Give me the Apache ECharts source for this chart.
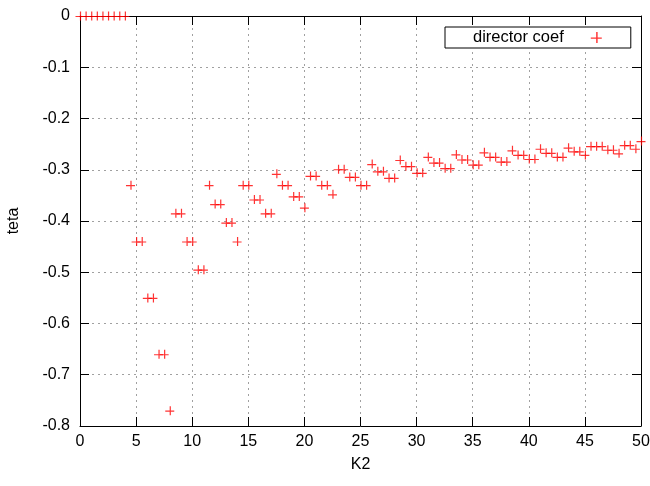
<!DOCTYPE html>
<html><head><meta charset="utf-8">
<script src="https://cdn.jsdelivr.net/npm/echarts@6/dist/echarts.min.js"></script>
<style>html,body{margin:0;padding:0;background:#fff}#c{width:650px;height:486px}</style>
</head><body><div id="c"></div>
<script>
// ---- data ----
const k2 = [0,0.5,1,1.5,2,2.5,3,3.5,4,4.5,5,5.5,6,6.5,7,7.5,8,8.5,9,9.5,10,10.5,11,11.5,12,12.5,13,13.5,14,14.5,15,15.5,16,16.5,17,17.5,18,18.5,19,19.5,20,20.5,21,21.5,22,22.5,23,23.5,24,24.5,25,25.5,26,26.5,27,27.5,28,28.5,29,29.5,30,30.5,31,31.5,32,32.5,33,33.5,34,34.5,35,35.5,36,36.5,37,37.5,38,38.5,39,39.5,40,40.5,41,41.5,42,42.5,43,43.5,44,44.5,45,45.5,46,46.5,47,47.5,48,48.5,49,49.5,50];
const teta = [0,0,0,0,0,0,0,0,0,
  -0.33,-0.44,-0.44,-0.55,-0.55,-0.66,-0.66,-0.77,
  -0.385,-0.385,-0.44,-0.44,-0.495,-0.495,
  -0.33,-0.367,-0.367,-0.403,-0.403,-0.44,
  -0.33,-0.33,-0.358,-0.358,-0.385,-0.385,
  -0.308,-0.33,-0.33,-0.352,-0.352,-0.374,
  -0.312,-0.312,-0.33,-0.33,-0.348,
  -0.299,-0.299,-0.314,-0.314,-0.33,-0.33,
  -0.289,-0.303,-0.303,-0.316,-0.316,
  -0.281,-0.293,-0.293,-0.306,-0.306,
  -0.275,-0.286,-0.286,-0.297,-0.297,
  -0.27,-0.28,-0.28,-0.29,-0.29,
  -0.266,-0.275,-0.275,-0.284,-0.284,
  -0.262,-0.271,-0.271,-0.279,-0.279,
  -0.259,-0.267,-0.267,-0.275,-0.275,
  -0.257,-0.264,-0.264,-0.271,
  -0.254,-0.254,-0.254,-0.261,-0.261,-0.268,
  -0.252,-0.252,-0.259,-0.244];
const seriesName = 'director coef';
const xTicks = [0,5,10,15,20,25,30,35,40,45,50];
const yTicks = [-0.8,-0.7,-0.6,-0.5,-0.4,-0.3,-0.2,-0.1,0];

// ---- drawing ----
const FONT = '"Liberation Sans", Arial, sans-serif';
const plus = 'path://M0,4.4H9V5.6H0Z M4.4,0H5.6V9H4.4Z';
const xStep = xTicks[1]-xTicks[0];
const yStep = +(yTicks[1]-yTicks[0]).toFixed(4);
const frame = {lineStyle:{color:'#000',width:1}};
const grid = {type:[2,4],color:'#a0a0a0',width:1};
function xa(pos, main){
  return {type:'value', position:pos, min:xTicks[0], max:xTicks[xTicks.length-1], interval:xStep,
    axisLine:{show:true,onZero:false,...frame},
    axisTick:{show:true,inside:true,length:9,lineStyle:{color:'#000'}},
    axisLabel:{show:main,color:'#000',fontSize:16,fontFamily:FONT,margin:8},
    splitLine:{show:main,lineStyle:grid},
    name: main?'K2':'', nameLocation:'middle', nameGap:31,
    nameTextStyle:{color:'#000',fontSize:16,fontFamily:FONT}};
}
function ya(pos, main){
  return {type:'value', position:pos, min:yTicks[0], max:yTicks[yTicks.length-1], interval:yStep,
    axisLine:{show:true,onZero:false,...frame},
    axisTick:{show:true,inside:true,length:9,lineStyle:{color:'#000'}},
    axisLabel:{show:main,color:'#000',fontSize:16,fontFamily:FONT,margin:10},
    splitLine:{show:main,lineStyle:grid},
    name: main?'teta':'', nameLocation:'middle', nameGap:58,
    nameTextStyle:{color:'#000',fontSize:16,fontFamily:FONT}};
}
const chart = echarts.init(document.getElementById('c'), null, {renderer:'canvas'});
chart.setOption({
  animation:false,
  backgroundColor:'#fff',
  grid:{left:80,right:9,top:16,bottom:60,containLabel:false,outerBoundsMode:'none'},
  legend:{left:445, top:27, align:'right', padding:[2,29,2,28],
    borderColor:'#000', borderWidth:1, backgroundColor:'#fff',
    itemWidth:11, itemHeight:11, selectedMode:false,
    textStyle:{color:'#000',fontSize:16.5,fontFamily:FONT,padding:[0,22,0,0]},
    data:[{name:seriesName, icon:plus, itemStyle:{color:'#ff0000'}}]},
  xAxis:[xa('bottom',true), xa('top',false)],
  yAxis:[ya('left',true), ya('right',false)],
  series:[{type:'scatter', name:seriesName, xAxisIndex:0, yAxisIndex:0, z:10,
    symbol:plus, symbolSize:9, clip:false,
    itemStyle:{color:'#ff0000'},
    emphasis:{disabled:true},
    data:k2.map((x,i)=>[x,teta[i]])}]
});
</script></body></html>
